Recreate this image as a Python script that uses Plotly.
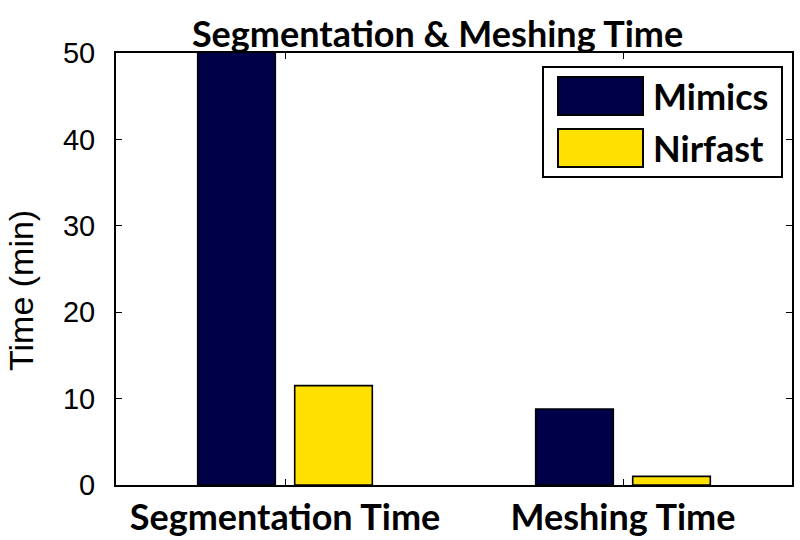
import plotly.graph_objects as go

categories = ["Segmentation Time", "Meshing Time"]
mimics = [60, 8.8]
nirfast = [11.5, 1.0]
series_names = ["Mimics", "Nirfast"]
series_colors = ["#000048", "#FFE000"]
y_ticks = [0, 10, 20, 30, 40, 50]

fig = go.Figure()
for name, vals, col in zip(series_names, [mimics, nirfast], series_colors):
    fig.add_trace(go.Bar(x=categories, y=vals, name=name, marker_color=col,
                         marker_line_color="black", marker_line_width=1.6,
                         showlegend=False))

label_font = dict(family="Lato", size=36, color="black", weight="bold")

fig.update_layout(
    width=800, height=540,
    margin=dict(l=116, r=8, t=53, b=55),
    paper_bgcolor="white", plot_bgcolor="white",
    barmode="group", bargap=0.426, bargroupgap=0.2,
    title=dict(text="Segmentation & Meshing Time", x=0.547, xanchor="center",
               y=0.937, yanchor="middle",
               font=dict(family="Lato", size=36, color="black", weight="bold")),
    xaxis=dict(range=[-0.5, 1.5], showline=True, linecolor="black", linewidth=2,
               mirror="ticks", ticks="inside", ticklen=6, tickcolor="black",
               tickfont=label_font, showgrid=False, automargin=False,
               ticklabelstandoff=0),
    yaxis=dict(range=[0, 50], tickvals=y_ticks, showline=True, linecolor="black",
               linewidth=2, mirror="ticks", ticks="inside", ticklen=6,
               tickcolor="black", showgrid=False, zeroline=False, automargin=False,
               tickfont=dict(family="Liberation Sans", size=29, color="black"),
               ticklabelstandoff=13),
)

W, H = 800 - 116 - 8, 540 - 53 - 55
def px(x):
    return (x - 116) / W
def py(y):
    return (540 - 55 - y) / H

fig.add_annotation(xref="paper", yref="paper", x=px(21), y=py(291), text="Time (min)",
                   textangle=-90, showarrow=False, xanchor="center", yanchor="middle",
                   font=dict(family="Liberation Sans", size=34, color="black"))

# custom legend (box, swatches, labels) in paper coordinates
fig.add_shape(type="rect", xref="paper", yref="paper", x0=px(543), x1=px(782),
              y0=py(177), y1=py(67), line=dict(color="black", width=2),
              fillcolor="white", layer="above")
rows = [(77, 115), (129, 167)]
for (top, bot), name, col in zip(rows, series_names, series_colors):
    fig.add_shape(type="rect", xref="paper", yref="paper", x0=px(558), x1=px(643),
                  y0=py(bot), y1=py(top), line=dict(color="black", width=2),
                  fillcolor=col, layer="above")
    fig.add_annotation(xref="paper", yref="paper", x=px(651), y=py((top + bot) / 2),
                       text=name, showarrow=False, xanchor="left", yanchor="middle",
                       font=dict(family="Lato", size=36, color="black", weight="bold"))

fig.write_html("out.html", config={"displayModeBar": False},
               post_script="document.body.style.margin='0';")
